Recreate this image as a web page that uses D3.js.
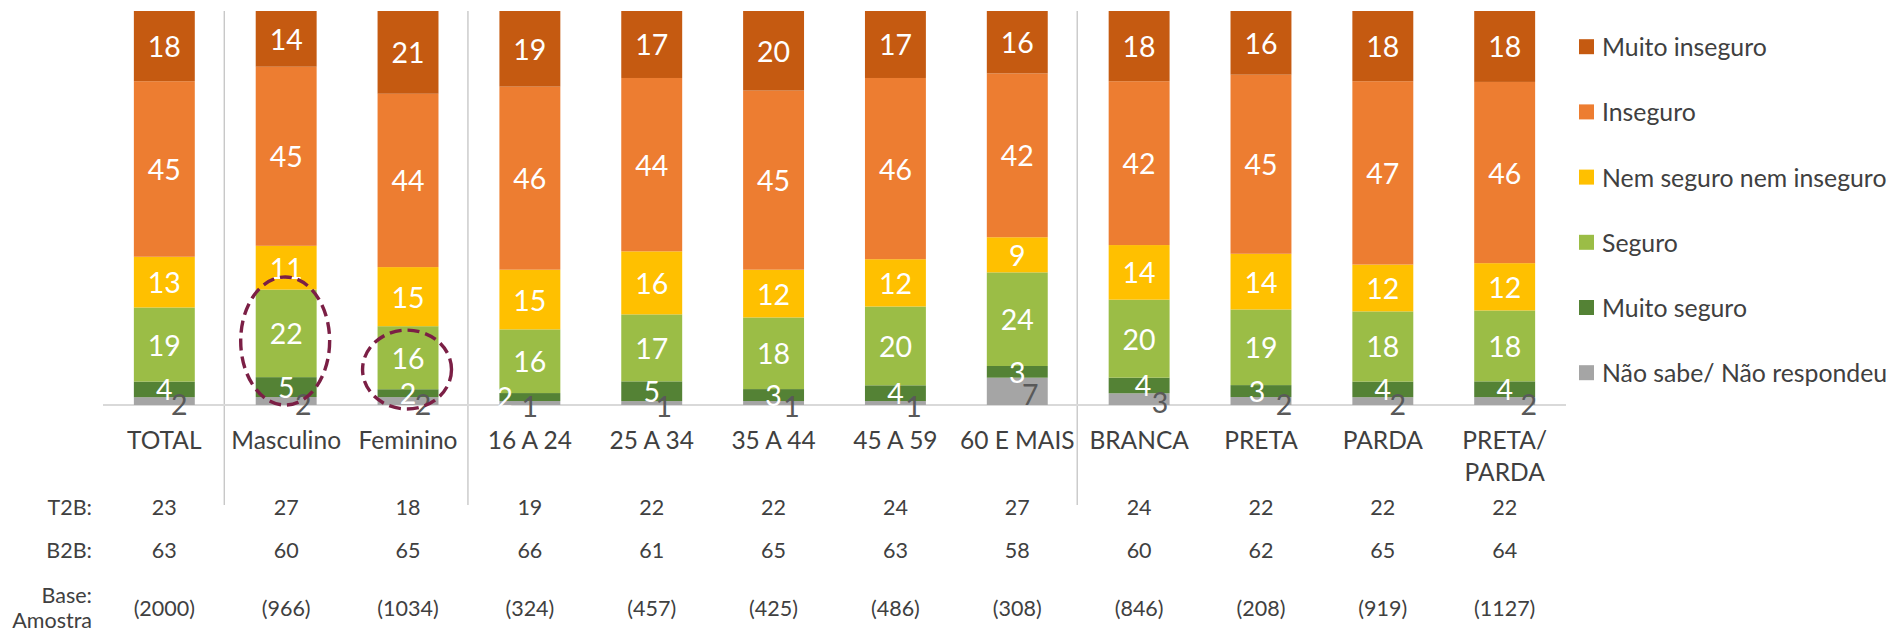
<!DOCTYPE html>
<html>
<head>
<meta charset="utf-8">
<script src="https://cdn.jsdelivr.net/npm/d3@7"></script>
<style>
  html, body { margin: 0; padding: 0; background: #fff; }
  svg { display: block; font-family: Lato, "Open Sans", sans-serif; }
</style>
</head>
<body>
<svg id="chart" width="1889" height="630"></svg>
<script>
// ---- data ----
const categories = ["TOTAL", "Masculino", "Feminino", "16 A 24", "25 A 34", "35 A 44", "45 A 59", "60 E MAIS", "BRANCA", "PRETA", "PARDA", "PRETA/PARDA"];
const seriesNames = ["Não sabe/ Não respondeu", "Muito seguro", "Seguro", "Nem seguro nem inseguro", "Inseguro", "Muito inseguro"];
const naoSabe       = [2, 2, 2, 1, 1, 1, 1, 7, 3, 2, 2, 2];
const muitoSeguro   = [4, 5, 2, 2, 5, 3, 4, 3, 4, 3, 4, 4];
const seguro        = [19, 22, 16, 16, 17, 18, 20, 24, 20, 19, 18, 18];
const nemNem        = [13, 11, 15, 15, 16, 12, 12, 9, 14, 14, 12, 12];
const inseguro      = [45, 45, 44, 46, 44, 45, 46, 42, 42, 45, 47, 46];
const muitoInseguro = [18, 14, 21, 19, 17, 20, 17, 16, 18, 16, 18, 18];
const t2b  = [23, 27, 18, 19, 22, 22, 24, 27, 24, 22, 22, 22];
const b2b  = [63, 60, 65, 66, 61, 65, 63, 58, 60, 62, 65, 64];
const base = [2000, 966, 1034, 324, 457, 425, 486, 308, 846, 208, 919, 1127];
const groupBreaksAfter = ["TOTAL", "Feminino", "60 E MAIS"];
const highlighted = [{cat: "Masculino", from: 0, to: 32.5}, {cat: "Feminino", from: -1, to: 19}];

// ---- styles / layout ----
const colors = ["#A5A5A5", "#548235", "#9BBD46", "#FFC000", "#ED7D31", "#C55A11"];
const nsLabelDx = [15, 17, 15, 0, 12, 18, 18, 13, 21, 23, 15, 24];
const msLabelDx = [0, 0, 0, -25, 0, 0, 0, 0, 4, -4, 0, 0];
const textColor = "#404040";

const svg = d3.select("#chart");
const x = d3.scaleBand().domain(categories).range([103.4, 1565.6]).paddingInner(0.5).paddingOuter(0.25);
const y = d3.scaleLinear().domain([0, 1]).range([405, 11]);

const seriesArrays = [naoSabe, muitoSeguro, seguro, nemNem, inseguro, muitoInseguro];
const table = categories.map((c, i) => {
  const row = {cat: c, idx: i};
  seriesNames.forEach((s, k) => row[s] = seriesArrays[k][i]);
  return row;
});
const stack = d3.stack().keys(seriesNames).offset(d3.stackOffsetExpand);
const stacked = stack(table);

// separators
const step = x.step();
groupBreaksAfter.forEach(c => {
  const xx = x(c) + x.bandwidth() + (step - x.bandwidth()) / 2 - 1;
  svg.append("line").attr("x1", xx).attr("x2", xx).attr("y1", 11).attr("y2", 505)
    .attr("stroke", "#BFBFBF").attr("stroke-width", 1.2);
});

// axis line
svg.append("line").attr("x1", 103).attr("x2", 1566).attr("y1", 405).attr("y2", 405)
  .attr("stroke", "#D9D9D9").attr("stroke-width", 2);

// bars
const layers = svg.append("g").selectAll("g").data(stacked).join("g")
  .attr("fill", (d, i) => colors[i]);
layers.selectAll("rect").data(d => d).join("rect")
  .attr("x", d => x(d.data.cat))
  .attr("width", x.bandwidth())
  .attr("y", d => y(d[1]))
  .attr("height", d => y(d[0]) - y(d[1]));

// labels
stacked.forEach((layer, k) => {
  svg.append("g").selectAll("text").data(layer).join("text")
    .attr("x", d => {
      const cx = x(d.data.cat) + x.bandwidth() / 2;
      if (k === 0) return cx + nsLabelDx[d.data.idx];
      if (k === 1) return cx + msLabelDx[d.data.idx];
      return cx;
    })
    .attr("y", d => {
      const mid = (y(d[0]) + y(d[1])) / 2;
      return k === 0 ? mid + 3 : mid;
    })
    .attr("text-anchor", "middle")
    .attr("dominant-baseline", "central")
    .attr("font-size", 28.5)
    .attr("fill", k === 0 ? "#595959" : "#FFFFFF")
    .text(d => d.data[seriesNames[k]]);
});

// annotations (dashed ellipses)
highlighted.forEach(h => {
  const cx = x(h.cat) + x.bandwidth() / 2 - 1;
  const y0 = y(h.from / 100), y1 = y(h.to / 100);
  svg.append("ellipse")
    .attr("cx", cx).attr("cy", (y0 + y1) / 2)
    .attr("rx", x.bandwidth() * 0.73).attr("ry", Math.abs(y0 - y1) / 2)
    .attr("fill", "none").attr("stroke", "#7B1F45").attr("stroke-width", 3.4)
    .attr("stroke-dasharray", "12,6");
});

// category labels
categories.forEach(c => {
  const lines = c.split(/(?<=\/)/);
  const t = svg.append("text")
    .attr("x", x(c) + x.bandwidth() / 2).attr("y", 449)
    .attr("text-anchor", "middle").attr("font-size", 24.5).attr("fill", textColor);
  lines.forEach((ln, j) => t.append("tspan").attr("x", x(c) + x.bandwidth() / 2).attr("dy", j === 0 ? 0 : 31.5).text(ln));
});

// rows
const rows = [
  {vals: t2b, y: 507, fmt: v => v},
  {vals: b2b, y: 550, fmt: v => v},
  {vals: base, y: 608, fmt: v => "(" + v + ")"}
];
rows.forEach(r => {
  svg.append("g").selectAll("text").data(categories).join("text")
    .attr("x", c => x(c) + x.bandwidth() / 2).attr("y", r.y)
    .attr("text-anchor", "middle").attr("dominant-baseline", "central")
    .attr("font-size", 21.5).attr("fill", textColor)
    .text((c, i) => r.fmt(r.vals[i]));
});
const rowLabels = [{t: "T2B:", y: 507}, {t: "B2B:", y: 550}, {t: "Base:", y: 595}, {t: "Amostra", y: 620}];
svg.append("g").selectAll("text").data(rowLabels).join("text")
  .attr("x", 92).attr("y", d => d.y)
  .attr("text-anchor", "end").attr("dominant-baseline", "central")
  .attr("font-size", 21.5).attr("fill", textColor)
  .text(d => d.t);

// legend
const legendOrder = seriesNames.map((s, i) => ({s, c: colors[i]})).reverse();
const lg = svg.append("g").selectAll("g").data(legendOrder).join("g")
  .attr("transform", (d, i) => `translate(1579, ${46.7 + i * 65.2})`);
lg.append("rect").attr("x", 0).attr("y", -7.5).attr("width", 15).attr("height", 15).attr("fill", d => d.c);
lg.append("text").attr("x", 23).attr("y", 0).attr("dominant-baseline", "central")
  .attr("font-size", 24.8).attr("fill", textColor).text(d => d.s);
</script>
</body>
</html>
